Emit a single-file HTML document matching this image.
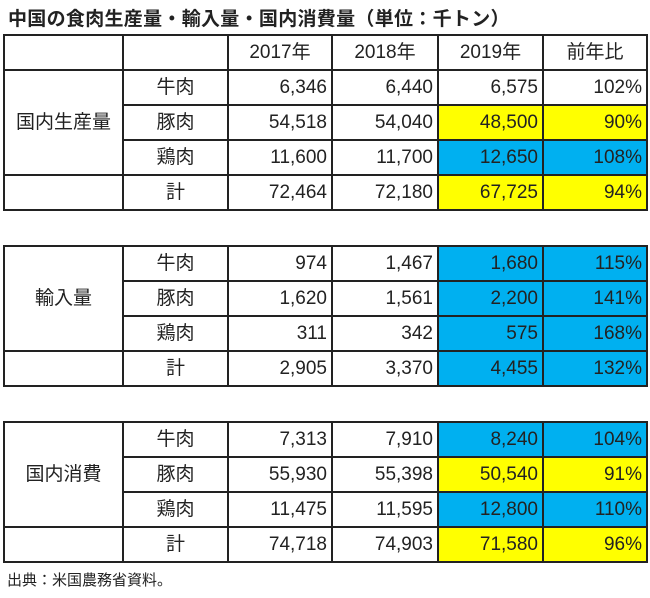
<!DOCTYPE html>
<html><head><meta charset="utf-8"><style>
body{margin:0;background:#fff;width:650px;height:598px;position:relative;overflow:hidden;font-family:"Liberation Sans","Noto Sans CJK JP",sans-serif;color:#222}
.t{position:absolute;left:8px;top:4px;font-size:19px;font-weight:bold;letter-spacing:0.3px}
table{position:absolute;left:3px;border-collapse:collapse;table-layout:fixed;font-size:19px}
td{border:2px solid #222;height:33px;padding:0 4px 0 0;text-align:right;white-space:nowrap;line-height:33px;box-sizing:content-box}
td.c{text-align:center;padding:0}
.y{background:#ffff00}.b{background:#00b0f0}
.f{position:absolute;left:7px;top:569px;font-size:15px}
</style></head><body>
<div class="t">中国の食肉生産量・輸入量・国内消費量（単位：千トン）</div>
<table style="top:34px">
<colgroup><col style="width:119px"><col style="width:105px"><col style="width:104px"><col style="width:106px"><col style="width:105px"><col style="width:104px"></colgroup>
<tr><td class="c"></td><td class="c"></td><td class="c">2017年</td><td class="c">2018年</td><td class="c">2019年</td><td class="c">前年比</td></tr>
<tr><td class="c" rowspan="3">国内生産量</td><td class="c">牛肉</td><td>6,346</td><td>6,440</td><td>6,575</td><td>102%</td></tr>
<tr><td class="c">豚肉</td><td>54,518</td><td>54,040</td><td class="y">48,500</td><td class="y">90%</td></tr>
<tr><td class="c">鶏肉</td><td>11,600</td><td>11,700</td><td class="b">12,650</td><td class="b">108%</td></tr>
<tr><td class="c"></td><td class="c">計</td><td>72,464</td><td>72,180</td><td class="y">67,725</td><td class="y">94%</td></tr>
</table>
<table style="top:245px">
<colgroup><col style="width:119px"><col style="width:105px"><col style="width:104px"><col style="width:106px"><col style="width:105px"><col style="width:104px"></colgroup>
<tr><td class="c" rowspan="3">輸入量</td><td class="c">牛肉</td><td>974</td><td>1,467</td><td class="b">1,680</td><td class="b">115%</td></tr>
<tr><td class="c">豚肉</td><td>1,620</td><td>1,561</td><td class="b">2,200</td><td class="b">141%</td></tr>
<tr><td class="c">鶏肉</td><td>311</td><td>342</td><td class="b">575</td><td class="b">168%</td></tr>
<tr><td class="c"></td><td class="c">計</td><td>2,905</td><td>3,370</td><td class="b">4,455</td><td class="b">132%</td></tr>
</table>
<table style="top:421px">
<colgroup><col style="width:119px"><col style="width:105px"><col style="width:104px"><col style="width:106px"><col style="width:105px"><col style="width:104px"></colgroup>
<tr><td class="c" rowspan="3">国内消費</td><td class="c">牛肉</td><td>7,313</td><td>7,910</td><td class="b">8,240</td><td class="b">104%</td></tr>
<tr><td class="c">豚肉</td><td>55,930</td><td>55,398</td><td class="y">50,540</td><td class="y">91%</td></tr>
<tr><td class="c">鶏肉</td><td>11,475</td><td>11,595</td><td class="b">12,800</td><td class="b">110%</td></tr>
<tr><td class="c"></td><td class="c">計</td><td>74,718</td><td>74,903</td><td class="y">71,580</td><td class="y">96%</td></tr>
</table>
<div class="f">出典：米国農務省資料。</div>
</body></html>
